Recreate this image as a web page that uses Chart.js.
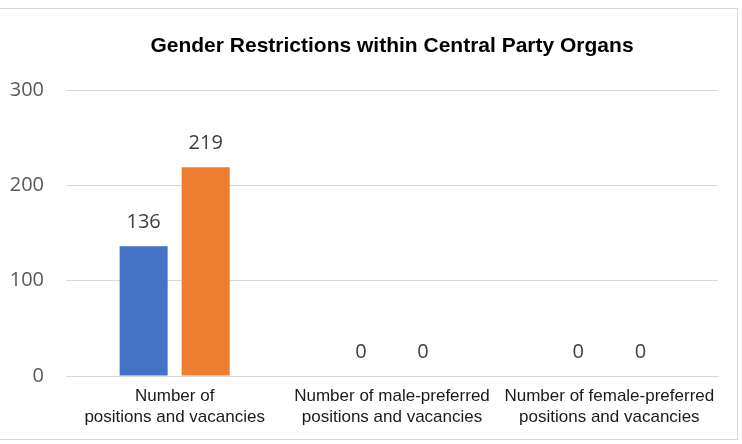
<!DOCTYPE html>
<html>
<head>
<meta charset="utf-8">
<script src="https://cdn.jsdelivr.net/npm/chart.js@4/dist/chart.umd.min.js"></script>
<style>
  html, body { margin: 0; padding: 0; background: #fff; overflow: hidden; }
  #frame {
    position: absolute; left: -2px; top: 8px;
    width: 740px; height: 432px;
    border: 1px solid #d9d9d9;
    box-sizing: border-box;
  }
  #wrap { position: absolute; left: 0; top: 0; width: 742px; height: 444px; }
</style>
</head>
<body>
<div id="frame"></div>
<div id="wrap"><canvas id="chart"></canvas></div>
<script>
const chartTitle = "Gender Restrictions within Central Party Organs";
const categories = [
  ["Number of", "positions and vacancies"],
  ["Number of male-preferred", "positions and vacancies"],
  ["Number of female-preferred", "positions and vacancies"],
];
const seriesA = [136, 0, 0];
const seriesB = [219, 0, 0];
const yTicks = [0, 100, 200, 300];

// value labels drawn above each bar
const valueLabels = {
  id: "valueLabels",
  afterDatasetsDraw(chart) {
    const ctx = chart.ctx;
    ctx.save();
    ctx.font = "20px 'Open Sans'";
    ctx.fillStyle = "#404040";
    ctx.textAlign = "center";
    ctx.textBaseline = "middle";
    chart.data.datasets.forEach((ds, i) => {
      chart.getDatasetMeta(i).data.forEach((bar, j) => {
        ctx.fillText(String(ds.data[j]), bar.x, bar.y - 24);
      });
    });
    ctx.restore();
  },
};

// title centred over the plot area, like the original
const plotTitle = {
  id: "plotTitle",
  afterDraw(chart) {
    const { ctx, chartArea } = chart;
    ctx.save();
    ctx.font = "bold 21px 'Liberation Sans', Arial";
    ctx.fillStyle = "#000";
    ctx.textAlign = "center";
    ctx.textBaseline = "middle";
    ctx.fillText(chartTitle, (chartArea.left + chartArea.right) / 2, 46);
    ctx.restore();
  },
};

new Chart(document.getElementById("chart").getContext("2d"), {
  type: "bar",
  data: {
    labels: categories,
    datasets: [
      { label: "A", data: seriesA, backgroundColor: "#4472C4" },
      { label: "B", data: seriesB, backgroundColor: "#ED7D31" },
    ],
  },
  options: {
    responsive: true,
    maintainAspectRatio: false,
    animation: false,
    categoryPercentage: 0.571,
    barPercentage: 0.774,
    layout: { padding: { left: 0, right: 24, top: 90, bottom: 0 } },
    plugins: {
      legend: { display: false },
      tooltip: { enabled: false },
      title: { display: false },
    },
    scales: {
      x: {
        grid: { display: false },
        border: { color: "#d9d9d9" },
        ticks: {
          color: "#1a1a1a",
          padding: 2,
          maxRotation: 0,
          autoSkip: false,
          font: { family: "'Liberation Sans', Arial", size: 17, lineHeight: 1.235 },
        },
        afterFit(scale) { scale.height = 68; },
      },
      y: {
        min: 0,
        max: 300,
        afterBuildTicks(scale) { scale.ticks = yTicks.map(v => ({ value: v })); },
        grid: { color: "#d9d9d9", drawTicks: false },
        border: { display: false },
        ticks: {
          color: "#595959",
          padding: 22,
          font: { family: "'Open Sans'", size: 20 },
        },
        afterFit(scale) { scale.width = 66; },
      },
    },
  },
  plugins: [valueLabels, plotTitle],
});
</script>
</body>
</html>
